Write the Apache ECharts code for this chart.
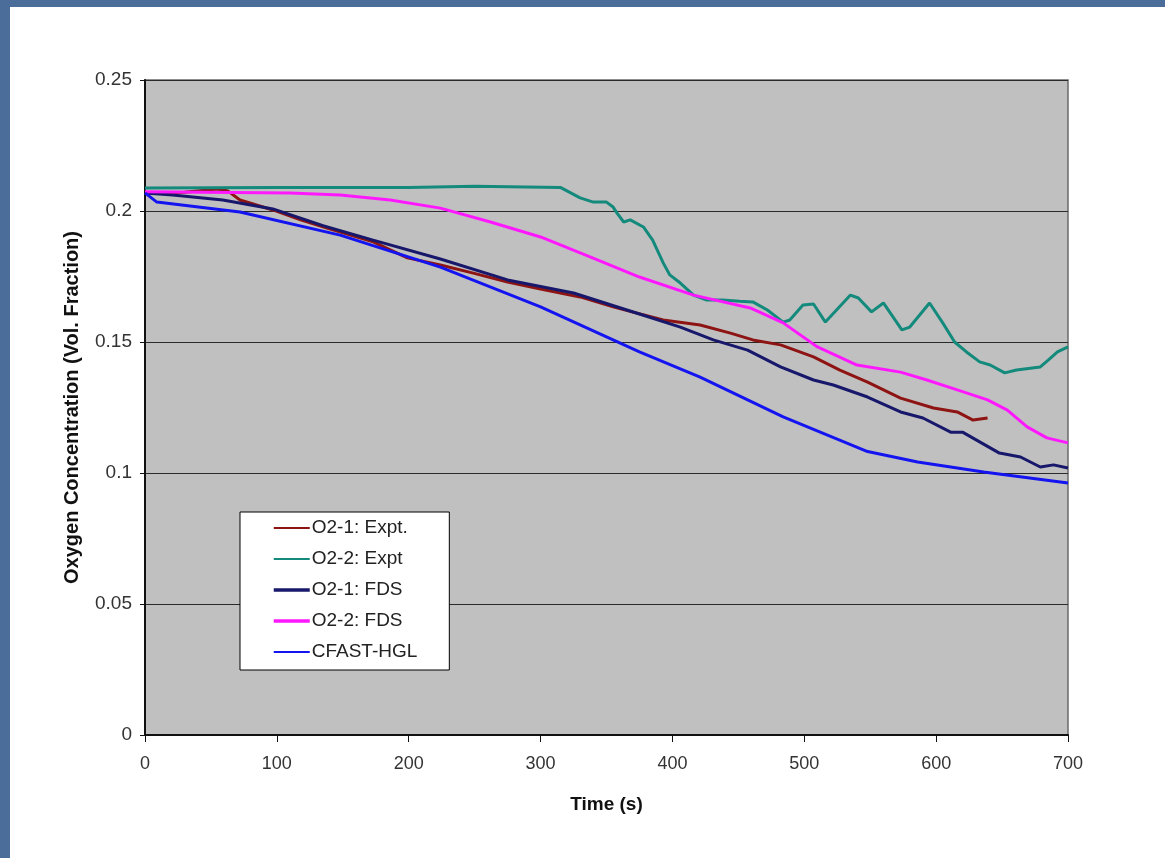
<!DOCTYPE html>
<html>
<head>
<meta charset="utf-8">
<title>Oxygen Concentration</title>
<script src="https://cdn.jsdelivr.net/npm/echarts@6/dist/echarts.min.js"></script>
<style>
  html, body { margin: 0; padding: 0; width: 1165px; height: 858px; overflow: hidden; }
  body { background: #4a6e99; position: relative; }
  #panel { position: absolute; left: 10px; top: 7px; right: 0; bottom: 0; background: #ffffff; }
  #chart { position: absolute; left: 0; top: 0; width: 1165px; height: 858px; }
</style>
</head>
<body>
<div id="panel"></div>
<div id="chart"></div>
<script>
// Time (s) and O2 volume fraction for each measured / modelled curve
const o21ExptTime = [0, 30, 55, 63, 72, 97, 118, 138, 173, 199, 224, 249, 275, 300, 330, 355, 393, 421, 444, 461, 482, 507, 527, 548, 573, 598, 616, 628, 639];
const o21ExptO2   = [0.2069, 0.2072, 0.2084, 0.2076, 0.2042, 0.2004, 0.1966, 0.1935, 0.1882, 0.1821, 0.1794, 0.1763, 0.1729, 0.1702, 0.1672, 0.1634, 0.1584, 0.1565, 0.1534, 0.1508, 0.1489, 0.1443, 0.1393, 0.1347, 0.1286, 0.1248, 0.1233, 0.1202, 0.1210];

const o22ExptTime = [0, 100, 200, 250, 315, 330, 340, 350, 355, 358, 363, 368, 378, 385, 393, 398, 406, 416, 426, 438, 451, 461, 472, 484, 489, 499, 507, 516, 535, 541, 551, 560, 574, 580, 595, 605, 614, 623, 633, 641, 652, 661, 679, 685, 692, 700];
const o22ExptO2   = [0.2088, 0.2090, 0.2090, 0.2094, 0.2090, 0.2050, 0.2034, 0.2034, 0.2015, 0.1992, 0.1958, 0.1966, 0.1939, 0.1889, 0.1802, 0.1756, 0.1725, 0.1679, 0.1660, 0.1660, 0.1656, 0.1653, 0.1622, 0.1576, 0.1584, 0.1641, 0.1645, 0.1576, 0.1679, 0.1668, 0.1615, 0.1649, 0.1546, 0.1557, 0.1649, 0.1573, 0.1500, 0.1462, 0.1424, 0.1412, 0.1382, 0.1393, 0.1405, 0.1431, 0.1462, 0.1481];

const o21FdsTime = [0, 21, 59, 97, 135, 173, 224, 275, 325, 375, 406, 431, 457, 482, 507, 522, 548, 573, 590, 611, 620, 648, 664, 679, 689, 700];
const o21FdsO2   = [0.2069, 0.2061, 0.2042, 0.2008, 0.1944, 0.1889, 0.1817, 0.1737, 0.1687, 0.1607, 0.1557, 0.1508, 0.1469, 0.1405, 0.1355, 0.1336, 0.1290, 0.1233, 0.1210, 0.1156, 0.1156, 0.1076, 0.1061, 0.1023, 0.1031, 0.1019];

const o22FdsTime = [0, 110, 148, 186, 224, 262, 300, 338, 375, 416, 459, 484, 510, 540, 573, 593, 616, 639, 654, 669, 684, 700];
const o22FdsO2   = [0.2073, 0.2069, 0.2061, 0.2042, 0.2011, 0.1958, 0.1901, 0.1824, 0.1748, 0.1679, 0.1630, 0.1573, 0.1481, 0.1412, 0.1385, 0.1355, 0.1317, 0.1279, 0.1240, 0.1176, 0.1134, 0.1115];

const cfastTime = [0, 9, 72, 148, 224, 300, 375, 421, 484, 548, 586, 636, 700];
const cfastO2   = [0.2069, 0.2034, 0.1996, 0.1908, 0.1786, 0.1634, 0.1462, 0.1366, 0.1214, 0.1082, 0.1042, 0.1004, 0.0962];

const seriesNames = ['O2-1: Expt.', 'O2-2: Expt', 'O2-1: FDS', 'O2-2: FDS', 'CFAST-HGL'];

function pairs(t, v) { return t.map((x, i) => [x, v[i]]); }

const curves = [
  { name: seriesNames[0], data: pairs(o21ExptTime, o21ExptO2), color: '#8e1414', width: 3, key: 2 },
  { name: seriesNames[1], data: pairs(o22ExptTime, o22ExptO2), color: '#138a7c', width: 3, key: 2 },
  { name: seriesNames[2], data: pairs(o21FdsTime, o21FdsO2), color: '#17176b', width: 3, key: 3.5 },
  { name: seriesNames[3], data: pairs(o22FdsTime, o22FdsO2), color: '#ff18ff', width: 3, key: 3.5 },
  { name: seriesNames[4], data: pairs(cfastTime, cfastO2), color: '#1414f0', width: 3, key: 2 }
];

const font = '"Liberation Sans", Arial, sans-serif';
const chart = echarts.init(document.getElementById('chart'), null, { renderer: 'canvas' });

chart.setOption({
  backgroundColor: 'transparent',
  animation: false,
  grid: {
    left: 145, right: 97, top: 80, bottom: 123,
    show: true, backgroundColor: '#c0c0c0', borderColor: '#6a6a6a', borderWidth: 1.5
  },
  legend: {
    orient: 'vertical',
    left: 240, top: 512,
    backgroundColor: '#ffffff',
    borderColor: '#000000', borderWidth: 1,
    padding: [6, 32, 8, 32],
    itemWidth: 36, itemHeight: 14, itemGap: 11,
    // key shows only the line sample, no marker dot
    data: curves.map(c => ({
      name: c.name,
      lineStyle: { width: c.key, color: c.color },
      itemStyle: { opacity: 0, borderWidth: 0 }
    })),
    textStyle: { fontFamily: font, fontSize: 19, color: '#222', lineHeight: 20, padding: [0, 0, 0, -3] }
  },
  xAxis: {
    type: 'value', min: 0, max: 700, interval: 100,
    name: 'Time (s)', nameLocation: 'middle', nameGap: 60,
    nameTextStyle: { fontFamily: font, fontSize: 19, fontWeight: 'bold', color: '#111' },
    axisLine: { show: true, onZero: false, lineStyle: { color: '#111', width: 2 } },
    axisTick: { show: true, inside: false, length: 7, lineStyle: { color: '#111', width: 1 } },
    axisLabel: { fontFamily: font, fontSize: 18, color: '#333', margin: 20 },
    splitLine: { show: false }
  },
  yAxis: {
    type: 'value', min: 0, max: 0.25, interval: 0.05,
    name: 'Oxygen Concentration (Vol. Fraction)', nameLocation: 'middle', nameGap: 63,
    nameTextStyle: { fontFamily: font, fontSize: 20, fontWeight: 'bold', color: '#111' },
    axisLine: { show: true, lineStyle: { color: '#111', width: 2 } },
    axisTick: { show: true, inside: false, length: 5, lineStyle: { color: '#111', width: 1 } },
    axisLabel: { fontFamily: font, fontSize: 19, color: '#333', margin: 13 },
    splitLine: { show: true, lineStyle: { color: '#2a2a2a', width: 1.2 } }
  },
  series: curves.map(c => ({
    type: 'line',
    name: c.name,
    data: c.data,
    symbol: 'none',
    smooth: false,
    color: c.color,
    lineStyle: { color: c.color, width: c.width },
    itemStyle: { color: c.color }
  }))
});
</script>
</body>
</html>
